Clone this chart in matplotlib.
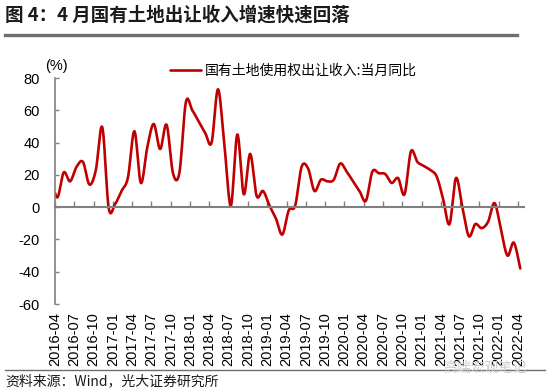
import numpy as np
import pandas as pd
import matplotlib
matplotlib.use("Agg")
import matplotlib.pyplot as plt

plt.rcParams['font.family'] = ['Liberation Sans', 'Noto Sans CJK SC']

# ---- data ----
months = pd.period_range('2016-03', '2022-04', freq='M').strftime('%Y-%m').tolist()
values = [20,
          6, 21.5, 16, 25, 28, 14, 23, 49.5, -0.5,
          2, 10, 18.5, 47, 15, 37, 51.5, 36, 51, 21, 21.5, 65,
          60, 53, 46, 40, 73, 38, 1, 45, 8, 33, 7, 10,
          1, -7, -17, -2, 1, 25, 24, 10, 17, 16, 17, 27,
          22, 16, 10, 4, 22, 21, 20.5, 15, 18, 8, 34.5, 28,
          25.5, 23, 19, 5, -10.5, 18, 0, -18, -10.5, -13, -9, 2.5,
          -14, -30, -22, -38]
series_name = '国有土地使用权出让收入:当月同比'
tick_months = months[1::3]
yticks = list(range(-60, 81, 20))
title = '图 4：4 月国有土地出让收入增速快速回落'
source = '资料来源：Wind，光大证券研究所'
watermark = '高端宏观笔记'


def smooth(x, y, n=24):
    """Bezier smoothing through every point (Catmull-Rom style)."""
    x = np.asarray(x, float)
    y = np.asarray(y, float)
    P = np.column_stack([x, y])
    out = []
    t = np.linspace(0, 1, n, endpoint=False)[:, None]
    for i in range(len(P) - 1):
        p0 = P[i - 1] if i > 0 else P[i]
        p1, p2 = P[i], P[i + 1]
        p3 = P[i + 2] if i + 2 < len(P) else P[i + 1]
        c1 = p1 + (p2 - p0) / 6.0
        c2 = p2 - (p3 - p1) / 6.0
        seg = ((1 - t) ** 3) * p1 + 3 * ((1 - t) ** 2) * t * c1 + 3 * (1 - t) * t ** 2 * c2 + t ** 3 * p2
        out.append(seg)
    out.append(P[-1:])
    out = np.vstack(out)
    return out[:, 0], out[:, 1]


offset = 0.35
pos = {m: i - 1 for i, m in enumerate(months)}
x = np.array([pos[m] for m in months]) + offset
xs, ys = smooth(x, values)

fig = plt.figure(figsize=(5.5, 3.92), dpi=100)
ax = fig.add_axes([55 / 550, 1 - 304 / 392, (524 - 55) / 550, (304 - 78) / 392])

ax.plot(xs, ys, color='#C00000', lw=1.9, label=series_name, solid_capstyle='round')

ax.set_xlim(0, 72.93)
ax.set_ylim(-60, 80)
ax.set_yticks(yticks)
ax.set_yticklabels([str(v) for v in yticks])

tick_pos = [pos[m] for m in tick_months]
ax.set_xticks(tick_pos)
ax.tick_params(axis='x', direction='in', length=4, color='#808080', width=1, labelbottom=False)
ax.tick_params(axis='y', direction='in', length=3, color='#808080', width=1, labelsize=10.5, pad=11)

for s in ['top', 'right']:
    ax.spines[s].set_visible(False)
ax.spines['left'].set_color('#808080')
ax.spines['left'].set_linewidth(1.2)
ax.spines['bottom'].set_position(('data', 0))
ax.spines['bottom'].set_color('#808080')
ax.spines['bottom'].set_linewidth(1.5)

sec = ax.secondary_xaxis('bottom')
sec.set_xticks(tick_pos)
sec.set_xticklabels(tick_months, rotation=90, fontsize=10.5)
sec.tick_params(axis='x', length=0, pad=6)
sec.spines['bottom'].set_visible(False)

fig.text(56 / 550, 1 - 66 / 392, '(%)', ha='center', va='center', fontsize=10.5)

fig.legend(loc='center left', bbox_to_anchor=(170 / 550, 1 - 71 / 392), frameon=False,
           handlelength=2.2, handletextpad=0.3, borderpad=0, borderaxespad=0,
           prop={'family': ['Noto Sans CJK SC'], 'size': 10})

fig.text(5 / 550, 1 - 15 / 392, title, ha='left', va='center', fontsize=13.3,
         fontweight='bold', family=['Noto Sans CJK SC'], color='#1a1a1a')
fig.add_artist(plt.Line2D([5 / 550, 517 / 550], [1 - 35 / 392, 1 - 35 / 392],
                          transform=fig.transFigure, color='#6e6e6e', lw=2.4))
fig.add_artist(plt.Line2D([5 / 550, 545 / 550], [1 - 370 / 392, 1 - 370 / 392],
                          transform=fig.transFigure, color='#6e6e6e', lw=1.0))
fig.text(5 / 550, 1 - 381 / 392, source, ha='left', va='center', fontsize=10,
         family=['Noto Sans CJK SC'], color='#1a1a1a')
fig.text(485 / 550, 1 - 368 / 392, watermark, ha='center', va='center', fontsize=10,
         family=['Noto Sans CJK SC'], color='#cccccc')

fig.savefig('out.png', dpi=100)
